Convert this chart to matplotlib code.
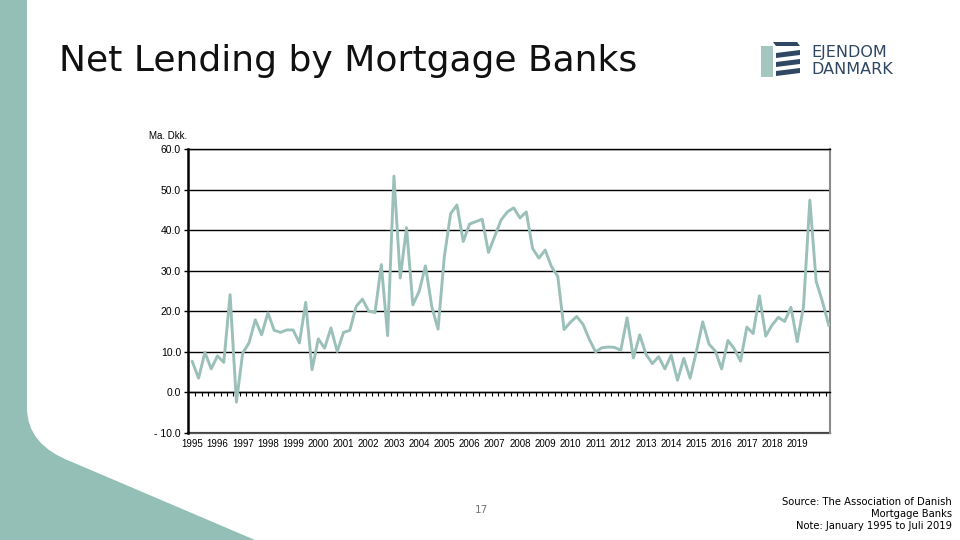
import matplotlib
matplotlib.use('Agg')
import matplotlib.pyplot as plt
from matplotlib.path import Path
from matplotlib.patches import PathPatch, Polygon
import numpy as np

# Quarterly net lending, bn DKK
net_lending = [7.6, 3.5, 9.9, 5.8, 9.0, 7.4, 24.1, -2.4, 9.7, 12.2,
               17.9, 14.2, 19.6, 15.3, 14.8, 15.4, 15.4, 12.2, 22.2, 5.6,
               13.2, 10.9, 15.9, 10.1, 14.8, 15.3, 21.2, 23.0, 20.0, 19.7,
               31.5, 14.0, 53.3, 28.2, 40.6, 21.6, 24.9, 31.2, 21.2, 15.6,
               33.5, 44.1, 46.2, 37.2, 41.5, 42.1, 42.7, 34.5, 38.5, 42.5,
               44.5, 45.5, 43.0, 44.5, 35.5, 33.1, 35.1, 31.0, 28.6, 15.5,
               17.3, 18.7, 16.8, 13.1, 10.0, 11.0, 11.2, 11.1, 10.4, 18.4,
               8.5, 14.2, 9.4, 7.1, 8.8, 5.8, 9.2, 3.0, 8.4, 3.5,
               10.1, 17.4, 11.9, 10.2, 5.8, 12.8, 10.8, 7.7, 16.1, 14.5,
               23.8, 13.9, 16.6, 18.5, 17.5, 21.0, 12.5, 21.2, 47.4, 27.4,
               22.4, 16.6]
years = list(range(1995, 2020))
y_ticks = [-10, 0, 10, 20, 30, 40, 50, 60]

teal = '#93bfb6'
line_color = '#9bc0b9'
navy = '#2f4763'

fig = plt.figure(figsize=(9.6, 5.4), dpi=100)

# background layer in pixel coordinates
bg = fig.add_axes([0, 0, 1, 1])
bg.set_xlim(0, 960)
bg.set_ylim(540, 0)
bg.axis('off')

verts = [(0, 0), (27, 0), (27, 408), (27, 445), (72, 462), (255, 540), (0, 540), (0, 0)]
codes = [Path.MOVETO, Path.LINETO, Path.LINETO, Path.CURVE3, Path.CURVE3,
         Path.LINETO, Path.LINETO, Path.CLOSEPOLY]
bg.add_patch(PathPatch(Path(verts, codes), facecolor=teal, edgecolor='none'))

bg.text(59, 61, 'Net Lending by Mortgage Banks', fontsize=26, va='center', ha='left',
        family='DejaVu Sans', color='#111111')

# logo
bg.add_patch(Polygon([(761, 46), (773, 46), (773, 77), (761, 77)], closed=True,
                     facecolor='#a3c7c0', edgecolor='none'))
bg.add_patch(Polygon([(773, 42), (797, 42), (800, 46), (776, 46)], closed=True,
                     facecolor=navy, edgecolor='none'))
for y0 in [50, 59, 68]:
    bg.add_patch(Polygon([(776, y0 + 3), (800, y0), (800, y0 + 5), (776, y0 + 8)], closed=True,
                         facecolor=navy, edgecolor='none'))
bg.text(811, 57.5, 'EJENDOM', fontsize=11.5, va='baseline', ha='left', color=navy,
        family='DejaVu Sans', fontweight='medium')
bg.text(811, 74, 'DANMARK', fontsize=11.5, va='baseline', ha='left', color=navy,
        family='DejaVu Sans', fontweight='medium')

bg.text(149, 136, 'Ma. Dkk.', fontsize=7, va='center', ha='left', family='Liberation Sans')
bg.text(481, 510, '17', fontsize=7.5, va='center', ha='center', color='#777777', family='DejaVu Sans')
bg.text(952, 514, 'Source: The Association of Danish\nMortgage Banks\nNote: January 1995 to Juli 2019',
        fontsize=7.2, va='center', ha='right', multialignment='right', family='DejaVu Sans',
        linespacing=1.3)

# chart
ax = fig.add_axes([188 / 960, 1 - 433 / 540, 642 / 960, 284 / 540])
x = np.arange(len(net_lending))
ax.plot(x, net_lending, color=line_color, lw=2.1, zorder=3)
ax.set_ylim(-10, 60)
ax.set_xlim(-0.68, len(net_lending) - 0.8)

ax.set_yticks(y_ticks)
ax.set_yticklabels([f'- {abs(v):.1f}' if v < 0 else f'{v:.1f}' for v in y_ticks],
                   family='Liberation Sans', fontsize=7.5)
ax.tick_params(axis='y', direction='out', length=3, width=1, pad=2)
ax.grid(axis='y', color='black', lw=1)
ax.set_axisbelow(True)

ax.spines['bottom'].set_position(('data', 0))
ax.spines['bottom'].set_linewidth(1)
ax.set_xticks(x[:-1] + 0.5)
ax.set_xticklabels([])
ax.tick_params(axis='x', direction='out', length=3, width=0.8)
ax.spines['left'].set_linewidth(1.8)
ax.spines['top'].set_linewidth(1)
ax.spines['right'].set_color('#8a8a8a')
ax.spines['right'].set_linewidth(1.5)

sec = ax.secondary_xaxis('bottom')
sec.set_xticks(np.arange(0, len(net_lending), 4)[:len(years)])
sec.set_xticklabels([str(yr) for yr in years], family='Liberation Sans', fontsize=7)
sec.tick_params(length=0, pad=4)
sec.spines['bottom'].set_color('#555555')
sec.spines['bottom'].set_linewidth(1.6)

fig.savefig('out.png', dpi=100)
